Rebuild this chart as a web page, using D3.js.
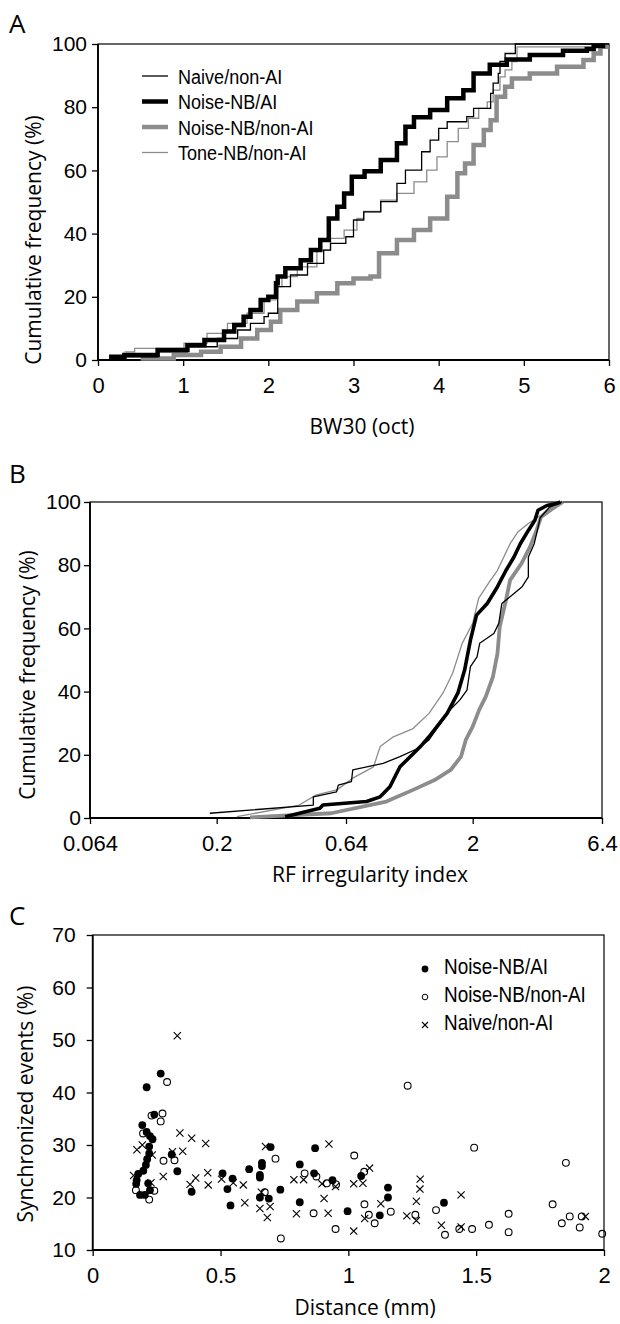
<!DOCTYPE html>
<html>
<head>
<meta charset="utf-8">
<script src="https://cdn.jsdelivr.net/npm/d3@7"></script>
<style>
    body { margin: 0; background: #fff; }
    svg text { font-family: "Liberation Sans", Arial, sans-serif; fill: #000; }
    svg .title { font-family: "Open Sans", "Noto Sans", sans-serif; font-size: 21px; }
    svg .panel { font-family: "Open Sans", "Noto Sans", sans-serif; font-size: 26px; }
</style>
</head>
<body>
<script>
// ---- data ----
var seriesNames = ['Naive/non-AI', 'Noise-NB/AI', 'Noise-NB/non-AI', 'Tone-NB/non-AI'];

var freqTicks = [0, 20, 40, 60, 80, 100];
var bwTicks = [0, 1, 2, 3, 4, 5, 6];
var rfTicks = [0.064, 0.2, 0.64, 2, 6.4];
var distTicks = [0, 0.5, 1, 1.5, 2];
var syncTicks = [10, 20, 30, 40, 50, 60, 70];

// A: cumulative BW30 (oct, %)
var bwNaive = [[0.15,1.0],[0.7,2.6],[1.05,4.2],[1.4,6.8],[1.64,9.5],[1.79,11.6],[1.95,13.7],[2.0,14.8],[2.11,23.2],[2.26,26.9],
    [2.46,30.6],[2.65,34.8],[2.73,36.9],[2.91,39.0],[3.0,44.3],[3.12,46.9],[3.32,50.1],[3.51,55.9],[3.61,60.1],[3.8,65.9],
    [3.9,69.6],[4.0,73.3],[4.1,75.4],[4.33,77.0],[4.41,79.6],[4.61,84.4],[4.64,87.6],[4.7,90.7],[4.72,94.5],[4.78,97.0],[4.9,100],[6.0,100]];
var bwNoiseAI = [[0.13,1.0],[0.31,1.6],[0.7,3.2],[1.05,4.7],[1.25,6.3],[1.48,9.0],[1.6,11.1],[1.71,13.7],[1.79,15.8],[1.91,19.0],
    [2.0,20.0],[2.09,24.3],[2.11,26.4],[2.2,29.0],[2.38,31.6],[2.5,34.8],[2.61,38.0],[2.71,44.8],[2.81,48.5],[2.89,52.7],
    [2.98,58.0],[3.13,59.7],[3.32,63.3],[3.51,68.6],[3.61,73.8],[3.71,76.8],[3.9,79.1],[4.1,82.8],[4.29,85.4],[4.41,90.7],
    [4.6,93.4],[4.8,95.1],[5.07,96.5],[5.46,97.9],[5.74,98.4],[5.82,99.4],[5.93,100]];
var bwNoiseNonAI = [[0.5,0.5],[0.89,1.6],[1.21,2.6],[1.44,4.2],[1.68,6.8],[1.87,9.5],[2.03,12.1],[2.14,15.8],[2.34,18.5],[2.57,21.1],
    [2.81,24.3],[3.0,25.8],[3.2,26.4],[3.3,33.8],[3.51,38.0],[3.71,41.1],[3.9,44.8],[4.1,51.7],[4.22,59.1],[4.31,62.2],
    [4.41,68.0],[4.53,72.8],[4.61,75.9],[4.68,83.3],[4.78,86.5],[4.86,89.1],[5.07,90.7],[5.39,92.8],[5.7,94.9],[5.82,97.0],
    [5.9,99.1],[5.97,100]];
var bwTone = [[0.31,2.6],[0.43,3.7],[1.01,5.3],[1.28,8.4],[1.52,11.6],[1.75,14.8],[1.95,19.0],[2.09,23.2],[2.16,26.4],[2.34,29.5],
    [2.57,34.8],[2.73,38.5],[2.89,41.1],[3.04,44.8],[3.12,47.0],[3.32,50.6],[3.51,52.7],[3.71,56.4],[3.86,60.1],[3.98,64.3],
    [4.1,69.1],[4.23,73.3],[4.35,76.5],[4.47,79.6],[4.57,81.7],[4.64,85.4],[4.72,89.6],[4.78,91.8],[4.86,94.4],[4.92,99.1],[5.9,100]];

// B: cumulative RF irregularity index (%)
var rfNaive = [[0.188,1.5],[0.477,4.1],[0.477,6.7],[0.588,8.3],[0.597,10.4],[0.672,11.5],[0.68,15.2],[0.894,17.3],[1.04,19.4],
    [1.22,22.0],[1.35,24.7],[1.42,27.3],[1.53,31.0],[1.63,34.2],[1.78,37.3],[1.9,40.5],[1.96,47.9],[2.08,51.0],[2.13,55.3],
    [2.42,58.4],[2.53,61.6],[2.6,67.9],[2.8,70.0],[3.12,73.2],[3.3,76.3],[3.3,82.6],[3.48,86.8],[3.6,92.0],[3.67,95.0],
    [4.0,98.4],[4.47,100]];
var rfNoiseAI = [[0.37,0.4],[0.506,3.1],[0.52,4.1],[0.77,5.2],[0.87,6.7],[0.95,9.9],[1.04,16.2],[1.14,19.4],[1.25,22.6],[1.35,25.7],
    [1.45,28.9],[1.59,33.1],[1.75,39.5],[1.86,46.8],[1.96,56.3],[2.07,64.2],[2.28,67.9],[2.5,73.2],[2.7,78.4],[2.9,82.6],
    [3.07,86.8],[3.3,91.0],[3.5,94.2],[3.6,97.4],[3.9,98.9],[4.25,99.5],[4.4,100]];
var rfNoiseNonAI = [[0.27,0.2],[0.56,1.5],[0.92,5.2],[1.17,8.9],[1.42,12.0],[1.64,15.2],[1.8,19.4],[1.88,24.7],[2.0,28.9],[2.12,34.2],
    [2.25,38.4],[2.4,44.7],[2.5,52.1],[2.55,60.5],[2.7,69.0],[2.8,75.3],[3.1,80.5],[3.35,85.8],[3.55,91.0],[3.7,95.3],
    [4.1,97.9],[4.5,100]];
var rfTone = [[0.24,0.4],[0.42,4.1],[0.49,7.3],[0.59,8.9],[0.68,12.6],[0.82,16.2],[0.87,22.6],[0.98,25.7],[1.17,28.3],[1.35,33.1],
    [1.53,39.5],[1.67,45.8],[1.82,55.3],[2.0,61.6],[2.11,69.5],[2.3,74.2],[2.5,78.4],[2.8,86.8],[3.0,90.5],[3.3,93.2],
    [3.7,95.8],[4.0,98.4],[4.5,100]];

// C: synchronized events (%) vs distance (mm)
var syncNoiseAI = [[0.194,33.8],[0.211,32.5],[0.224,31.7],[0.234,31.1],[0.221,29.7],[0.221,28.4],[0.213,27.3],[0.208,26.2],
    [0.198,25.1],[0.178,24.5],[0.172,23.3],[0.217,22.7],[0.185,20.5],[0.204,20.5],[0.224,21.4],[0.17,22.6],[0.211,41.0],
    [0.266,43.6],[0.241,35.8],[0.309,28.2],[0.331,25.0],[0.387,21.1],[0.508,24.6],[0.527,21.6],[0.547,23.6],[0.539,18.5],
    [0.612,25.4],[0.654,24.3],[0.662,26.6],[0.662,26.0],[0.654,23.8],[0.654,20.0],[0.689,19.8],[0.696,29.6],[0.734,21.5],
    [0.81,26.3],[0.81,19.1],[0.866,24.6],[0.87,29.4],[0.938,23.3],[0.997,17.4],[1.05,24.1],[1.123,16.6],[1.155,21.9],
    [1.155,20.0],[1.374,19.0]];
var syncNoiseNonAI = [[0.291,42.0],[1.232,41.3],[0.273,36.0],[0.23,35.6],[0.266,34.5],[0.197,32.2],[0.277,27.0],[0.32,27.1],
    [0.715,27.4],[1.023,28.0],[1.492,29.5],[1.851,26.6],[0.829,24.6],[0.875,24.0],[1.062,24.9],[0.673,21.0],[0.241,21.3],
    [0.221,19.6],[0.169,21.4],[0.916,22.7],[0.952,22.5],[1.063,18.7],[1.08,16.7],[1.103,15.1],[1.166,17.3],[0.864,17.0],
    [0.736,12.2],[0.95,14.0],[1.262,16.7],[1.343,17.6],[1.378,12.9],[1.434,14.0],[1.484,14.0],[1.55,14.8],[1.627,16.9],
    [1.627,13.4],[1.799,18.7],[1.835,15.1],[1.866,16.4],[1.905,14.3],[1.913,16.4],[1.993,13.1]];
var syncNaive = [[0.331,50.8],[0.341,32.3],[0.387,31.3],[0.442,30.3],[0.352,28.8],[0.312,28.7],[0.173,29.1],[0.194,30.0],
    [0.16,24.2],[0.233,28.1],[0.228,22.8],[0.276,24.0],[0.381,22.5],[0.403,23.7],[0.45,24.7],[0.452,22.4],[0.504,23.5],
    [0.55,22.8],[0.589,22.4],[0.595,19.0],[0.654,17.9],[0.683,16.2],[0.694,18.3],[0.66,21.0],[0.676,29.7],[0.787,23.4],
    [0.825,23.4],[0.797,16.9],[0.905,19.8],[0.921,17.0],[0.897,22.6],[0.95,22.1],[0.924,30.2],[1.021,22.6],[1.021,13.6],
    [1.057,22.7],[1.083,25.6],[1.064,16.0],[1.127,18.8],[1.229,16.5],[1.266,19.3],[1.266,15.6],[1.281,23.5],[1.28,21.6],
    [1.364,14.7],[1.441,14.4],[1.441,20.5],[1.927,16.4]];

// ---- styles ----
var lineStyle = {
    'Naive/non-AI':    { color: '#000', width: 1.3 },
    'Noise-NB/AI':     { color: '#000', width: 4.5 },
    'Noise-NB/non-AI': { color: '#8c8c8c', width: 4.5 },
    'Tone-NB/non-AI':  { color: '#8c8c8c', width: 1.3 }
};

var svg = d3.select('body').append('svg').attr('width', 620).attr('height', 1324);

function drawFrame(x, y, xTicks, yTicks, opt) {
    var g = svg.append('g');
    var x0 = x.range()[0], x1 = x.range()[1], y0 = y.range()[0], y1 = y.range()[1];

    var xa = g.append('g').attr('transform', 'translate(0,' + y0 + ')')
        .call(d3.axisBottom(x).tickValues(xTicks).tickFormat(String).tickSize(6).tickSizeOuter(0).tickPadding(opt.xPad));
    var ya = g.append('g').attr('transform', 'translate(' + x0 + ',0)')
        .call(d3.axisLeft(y).tickValues(yTicks).tickFormat(String).tickSize(6).tickSizeOuter(0).tickPadding(opt.yPad));
    [xa, ya].forEach(function (a) {
        a.select('.domain').remove();
        a.selectAll('line').attr('stroke', '#000').attr('stroke-width', 1.3);
        a.selectAll('text').attr('font-family', '"Liberation Sans", Arial, sans-serif');
    });
    xa.selectAll('text').attr('font-size', 22);
    ya.selectAll('text').attr('font-size', 21);

    // box around the plot
    g.append('rect')
        .attr('x', x0).attr('y', y1)
        .attr('width', x1 - x0).attr('height', y0 - y1)
        .attr('fill', 'none').attr('stroke', '#000').attr('stroke-width', 1.2);
    g.append('path')
        .attr('d', 'M' + x0 + ',' + y1 + 'V' + y0 + 'H' + x1)
        .attr('fill', 'none').attr('stroke', '#000').attr('stroke-width', 1.8);

    svg.append('text').attr('class', 'title')
        .attr('x', opt.xTitle[0]).attr('y', opt.xTitle[1])
        .attr('text-anchor', 'middle').text(opt.xLabel);
    svg.append('text').attr('class', 'title')
        .attr('transform', 'translate(' + opt.yTitle[0] + ',' + opt.yTitle[1] + ') rotate(-90)')
        .attr('text-anchor', 'middle').text(opt.yLabel);
    svg.append('text').attr('class', 'panel')
        .attr('x', 9).attr('y', opt.letter[1]).text(opt.letter[0]);
}

// ---- Panel A ----
var xA = d3.scaleLinear().domain([0, 6]).range([98, 609]);
var yA = d3.scaleLinear().domain([0, 100]).range([360, 44]);
drawFrame(xA, yA, bwTicks, freqTicks, {
    xPad: 11, yPad: 5, xLabel: 'BW30 (oct)', yLabel: 'Cumulative frequency (%)',
    xTitle: [362, 434], yTitle: [41, 240], letter: ['A', 33]
});

var stepA = d3.line().x(function (d) { return xA(d[0]); }).y(function (d) { return yA(d[1]); }).curve(d3.curveStepAfter);
[['Noise-NB/non-AI', bwNoiseNonAI], ['Tone-NB/non-AI', bwTone], ['Noise-NB/AI', bwNoiseAI], ['Naive/non-AI', bwNaive]]
    .forEach(function (s) {
        svg.append('path').attr('d', stepA(s[1]))
            .attr('fill', 'none').attr('stroke', lineStyle[s[0]].color)
            .attr('stroke-width', lineStyle[s[0]].width).attr('stroke-linejoin', 'miter');
    });

// legend A
seriesNames.forEach(function (name, i) {
    var yy = 76 + i * 25.5;
    svg.append('line').attr('x1', 142).attr('x2', 168).attr('y1', yy).attr('y2', yy)
        .attr('stroke', lineStyle[name].color).attr('stroke-width', lineStyle[name].width);
    svg.append('g').attr('transform', 'translate(178,' + (yy + 7.5) + ')')
        .append('text').attr('transform', 'scale(0.86,1)').attr('font-size', 21).text(name);
});

// ---- Panel B ----
var xB = d3.scaleLog().domain([0.064, 6.4]).range([90, 602]);
var yB = d3.scaleLinear().domain([0, 100]).range([818, 502]);
drawFrame(xB, yB, rfTicks, freqTicks, {
    xPad: 11, yPad: 3, xLabel: 'RF irregularity index', yLabel: 'Cumulative frequency (%)',
    xTitle: [370, 882], yTitle: [35, 675], letter: ['B', 483]
});

var lineB = d3.line().x(function (d) { return xB(d[0]); }).y(function (d) { return yB(d[1]); });
[['Noise-NB/non-AI', rfNoiseNonAI, 3.8], ['Tone-NB/non-AI', rfTone, 1.3], ['Noise-NB/AI', rfNoiseAI, 3.6], ['Naive/non-AI', rfNaive, 1.3]]
    .forEach(function (s) {
        svg.append('path').attr('d', lineB(s[1]))
            .attr('fill', 'none').attr('stroke', lineStyle[s[0]].color)
            .attr('stroke-width', s[2]).attr('stroke-linejoin', 'round');
    });

// ---- Panel C ----
var xC = d3.scaleLinear().domain([0, 2]).range([92.7, 604]);
var yC = d3.scaleLinear().domain([10, 70]).range([1250, 935]);
drawFrame(xC, yC, distTicks, syncTicks, {
    xPad: 11, yPad: 11, xLabel: 'Distance (mm)', yLabel: 'Synchronized events (%)',
    xTitle: [365, 1315], yTitle: [33, 1104], letter: ['C', 925]
});

function cross(g, cx, cy, h) {
    g.append('path')
        .attr('d', 'M' + (cx - h) + ',' + (cy - h) + 'L' + (cx + h) + ',' + (cy + h) +
                   'M' + (cx - h) + ',' + (cy + h) + 'L' + (cx + h) + ',' + (cy - h))
        .attr('stroke', '#000').attr('stroke-width', 1.1).attr('fill', 'none');
}

var gC = svg.append('g');
syncNaive.forEach(function (d) { cross(gC, xC(d[0]), yC(d[1]), 3.6); });
gC.selectAll('circle.open').data(syncNoiseNonAI).enter().append('circle')
    .attr('class', 'open')
    .attr('cx', function (d) { return xC(d[0]); }).attr('cy', function (d) { return yC(d[1]); })
    .attr('r', 3.4).attr('fill', 'none').attr('stroke', '#000').attr('stroke-width', 1.1);
gC.selectAll('circle.fill').data(syncNoiseAI).enter().append('circle')
    .attr('class', 'fill')
    .attr('cx', function (d) { return xC(d[0]); }).attr('cy', function (d) { return yC(d[1]); })
    .attr('r', 3.9).attr('fill', '#000');

// legend C
var legC = [['Noise-NB/AI', 966], ['Noise-NB/non-AI', 994], ['Naive/non-AI', 1022]];
svg.append('circle').attr('cx', 425).attr('cy', 969).attr('r', 3.4).attr('fill', '#000');
svg.append('circle').attr('cx', 425).attr('cy', 997).attr('r', 2.8).attr('fill', 'none').attr('stroke', '#000').attr('stroke-width', 1);
cross(svg, 425, 1025, 3);
legC.forEach(function (l) {
    svg.append('g').attr('transform', 'translate(444,' + (l[1] + 8) + ')')
        .append('text').attr('transform', 'scale(0.86,1)').attr('font-size', 22).text(l[0]);
});
</script>
</body>
</html>
